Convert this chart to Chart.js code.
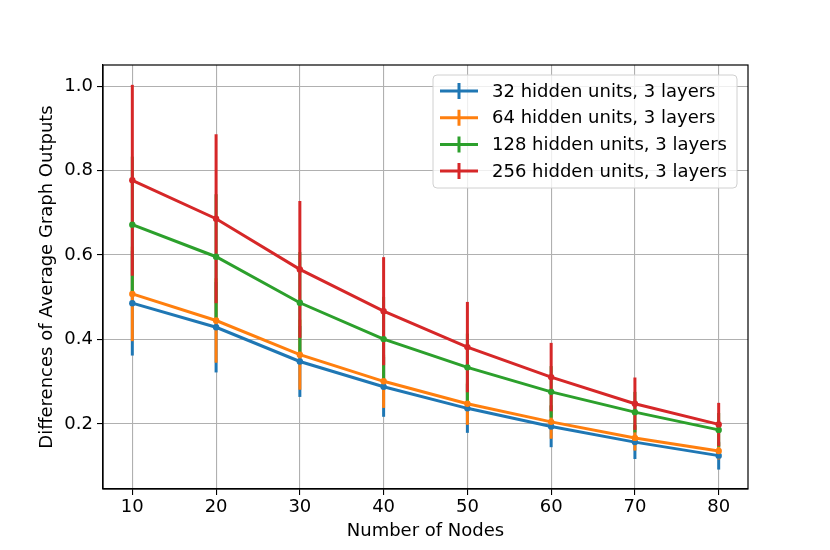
<!DOCTYPE html>
<html>
<head>
<meta charset="utf-8">
<script src="https://cdn.jsdelivr.net/npm/chart.js@4.4.0/dist/chart.umd.min.js"></script>
<style>
  html, body { margin: 0; padding: 0; background: #fff; }
  #wrap { width: 830px; height: 550px; }
</style>
</head>
<body>
<div id="wrap"><canvas id="c" width="830" height="550"></canvas></div>
<script>
// ── Données ──────────────────────────────────────────────────────────────────
const nodes = [10, 20, 30, 40, 50, 60, 70, 80];
const labels = ['32 hidden units, 3 layers', '64 hidden units, 3 layers',
                '128 hidden units, 3 layers', '256 hidden units, 3 layers'];

const mean32  = [0.486, 0.429, 0.348, 0.288, 0.237, 0.194, 0.157, 0.125];
const err32   = [0.124, 0.107, 0.084, 0.071, 0.058, 0.049, 0.040, 0.033];
const mean64  = [0.508, 0.445, 0.364, 0.301, 0.248, 0.205, 0.167, 0.136];
const err64   = [0.112, 0.100, 0.083, 0.063, 0.050, 0.040, 0.030, 0.020];
const mean128 = [0.672, 0.596, 0.487, 0.401, 0.334, 0.276, 0.228, 0.186];
const err128  = [0.161, 0.148, 0.120, 0.100, 0.080, 0.061, 0.048, 0.040];
const mean256 = [0.777, 0.686, 0.566, 0.467, 0.382, 0.311, 0.248, 0.199];
const err256  = [0.226, 0.200, 0.162, 0.128, 0.107, 0.081, 0.062, 0.051];

const yTicks = [0.2, 0.4, 0.6, 0.8, 1.0];
const xTicks = [10, 20, 30, 40, 50, 60, 70, 80];

// palette tab10
const COLORS = ['#1f77b4', '#ff7f0e', '#2ca02c', '#d62728'];
const FONT = "'DejaVu Sans', sans-serif";
const FS = 18;

const means = [mean32, mean64, mean128, mean256];
const errs  = [err32, err64, err128, err256];

const datasets = means.map((m, i) => ({
  label: labels[i],
  data: nodes.map((x, j) => ({ x, y: m[j] })),
  errors: errs[i],
  order: 3 - i,            // rouge au-dessus, comme matplotlib
  borderColor: COLORS[i],
  backgroundColor: COLORS[i],
  borderWidth: 3,
  pointRadius: 3.2,
  pointHoverRadius: 3.2,
  pointBorderWidth: 0,
  tension: 0,
}));

// ── Barres d'erreur (sans capuchons), toutes sous les courbes ───────────────
const errorBars = {
  id: 'errorBars',
  beforeDatasetsDraw(chart) {
    const { x: xs, y: ys } = chart.scales;
    const ctx = chart.ctx;
    ctx.save();
    ctx.lineWidth = 3;
    chart.data.datasets.forEach(ds => {
      ctx.strokeStyle = ds.borderColor;
      ds.data.forEach((p, j) => {
        const e = ds.errors[j];
        const px = xs.getPixelForValue(p.x);
        ctx.beginPath();
        ctx.moveTo(px, ys.getPixelForValue(p.y - e));
        ctx.lineTo(px, ys.getPixelForValue(p.y + e));
        ctx.stroke();
      });
    });
    ctx.restore();
  }
};

// ── Cadre complet + légende interne façon matplotlib ────────────────────────
const frameAndLegend = {
  id: 'frameAndLegend',
  afterDraw(chart) {
    const { ctx, chartArea: a } = chart;
    ctx.save();
    ctx.strokeStyle = '#000';
    ctx.lineWidth = 1.2;
    ctx.strokeRect(a.left, a.top, a.right - a.left, a.bottom - a.top);

    // légende
    const bx = 433, by = 75, bw = 304, bh = 113, r = 4;
    ctx.beginPath();
    ctx.moveTo(bx + r, by);
    ctx.arcTo(bx + bw, by, bx + bw, by + bh, r);
    ctx.arcTo(bx + bw, by + bh, bx, by + bh, r);
    ctx.arcTo(bx, by + bh, bx, by, r);
    ctx.arcTo(bx, by, bx + bw, by, r);
    ctx.closePath();
    ctx.fillStyle = 'rgba(255,255,255,0.8)';
    ctx.fill();
    ctx.strokeStyle = '#d0d0d0';
    ctx.lineWidth = 1;
    ctx.stroke();

    ctx.font = FS + 'px ' + FONT;
    ctx.textBaseline = 'middle';
    const byIndex = chart.data.datasets.slice();
    byIndex.forEach((ds, i) => {
      const cy = 91 + i * 26.7;
      ctx.strokeStyle = ds.borderColor;
      ctx.lineWidth = 3;
      ctx.beginPath();
      ctx.moveTo(440, cy); ctx.lineTo(478, cy);
      ctx.moveTo(459, cy - 8); ctx.lineTo(459, cy + 8);
      ctx.stroke();
      ctx.fillStyle = '#000';
      ctx.fillText(ds.label, 492, cy + 1);
    });
    ctx.restore();
  }
};

Chart.defaults.font.family = FONT;
Chart.defaults.color = '#000';

new Chart(document.getElementById('c'), {
  type: 'line',
  data: { datasets },
  plugins: [errorBars, frameAndLegend],
  options: {
    responsive: false,
    animation: false,
    devicePixelRatio: 1,
    layout: { padding: { left: 0, right: 82, top: 65, bottom: 0 } },
    plugins: { legend: { display: false }, tooltip: { enabled: false } },
    scales: {
      x: {
        type: 'linear',
        min: 6.5, max: 83.5,
        afterBuildTicks: s => { s.ticks = xTicks.map(v => ({ value: v })); },
        afterFit: s => { s.height = 61; },
        ticks: { font: { size: FS }, padding: 2, maxRotation: 0, callback: v => String(v) },
        grid: { color: '#b0b0b0', lineWidth: 1.1, tickColor: '#000', tickLength: 6 },
        border: { display: true, color: '#000', width: 1.2 },
        title: { display: true, text: 'Number of Nodes', font: { size: FS }, padding: { top: 0, bottom: 8 } },
      },
      y: {
        type: 'linear',
        min: 0.046, max: 1.05,
        afterBuildTicks: s => { s.ticks = yTicks.map(v => ({ value: v })); },
        afterFit: s => { s.width = 103; },
        ticks: { font: { size: FS }, padding: 4, callback: v => v.toFixed(1) },
        grid: { color: '#b0b0b0', lineWidth: 1.1, tickColor: '#000', tickLength: 6 },
        border: { display: true, color: '#000', width: 1.2 },
        title: { display: true, text: 'Differences of Average Graph Outputs', font: { size: FS }, padding: { top: 37, bottom: 0 } },
      },
    },
  },
});
</script>
</body>
</html>
